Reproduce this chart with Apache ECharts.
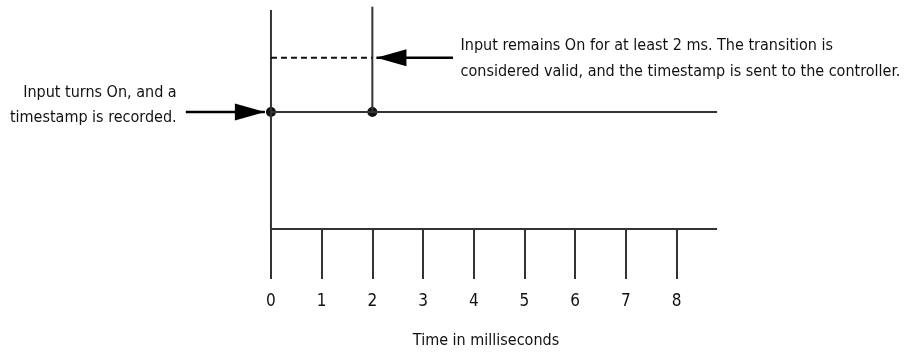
<!DOCTYPE html>
<html><head><meta charset="utf-8">
<script src="https://cdn.jsdelivr.net/npm/echarts@6.0.0/dist/echarts.min.js"></script>
<style>html,body{margin:0;padding:0;background:#fff}#c{width:912px;height:358px}</style>
</head><body><div id="c"></div>
<script>
const tickValues = [0, 1, 2, 3, 4, 5, 6, 7, 8];
const tickLabels = ['0', '1', '2', '3', '4', '5', '6', '7', '8'];
const timeEnd = 8.8;
const edgeTime = 0;
const validTime = 2;
const onLevel = 1;
const thresholdLevel = 1.464;
const edgeLineTop = 1.872;
const validLineTop = 1.90;
const arrowIn = { from: -1.68, to: -0.12, level: 1 };
const arrowOut = { from: 3.59, to: 2.08, level: 1.464 };
const noteIn = { text: 'Input turns On, and a\ntimestamp is recorded.', t: -1.85, level: 1.057 };
const noteOut = { text: 'Input remains On for at least 2 ms. The transition is\nconsidered valid, and the timestamp is sent to the controller.', t: 3.73, level: 1.457 };
const axisTitle = 'Time in milliseconds';
const xRange = [-5.345, 12.645];
const yRange = [0, 1.957];

const FONT = '"DejaVu Sans Condensed", "DejaVu Sans", sans-serif';
const INK = '#111111';
const LINE = '#333333';

const chart = echarts.init(document.getElementById('c'), null, { renderer: 'canvas' });

function seg(name, pts, style) {
  return { type: 'line', name, data: pts, symbol: 'none', silent: true, clip: false,
    lineStyle: Object.assign({ color: LINE, width: 2 }, style || {}) };
}

function note(name, n, side, lh) {
  return {
    type: 'line', name, data: [n.value], symbol: 'circle', symbolSize: 1, showSymbol: true, silent: true,
    itemStyle: { color: '#ffffff', opacity: 1 }, lineStyle: { opacity: 0 },
    label: { show: true, formatter: n.text, position: side, distance: 0,
      align: side === 'left' ? 'right' : 'left', verticalAlign: 'middle',
      fontFamily: FONT, fontSize: 16, lineHeight: lh, color: INK, opacity: 1 }
  };
}

noteIn.value = [noteIn.t, noteIn.level];
noteOut.value = [noteOut.t, noteOut.level];

chart.setOption({
  animation: false,
  grid: { left: 0, right: 0, top: 0, bottom: 129, containLabel: false },
  xAxis: {
    type: 'value', min: xRange[0], max: xRange[1],
    axisLine: { show: false }, splitLine: { show: false },
    axisTick: { show: true, length: 50, inside: false, customValues: tickValues, lineStyle: { color: LINE, width: 2 } },
    axisLabel: { show: true, customValues: tickValues, margin: 64, fontFamily: FONT, fontSize: 17, color: INK,
      formatter: v => tickLabels[tickValues.indexOf(v)] ?? '' },
    name: axisTitle, nameLocation: 'middle', nameGap: 104,
    nameTextStyle: { fontFamily: FONT, fontSize: 16, color: INK, padding: [0, 0, 0, 60] }
  },
  yAxis: { type: 'value', min: yRange[0], max: yRange[1], show: false },
  series: [
    seg('baseline', [[edgeTime, 0], [timeEnd, 0]]),
    seg('signal', [[edgeTime, onLevel], [timeEnd, onLevel]]),
    seg('edge', [[edgeTime, 0], [edgeTime, edgeLineTop]]),
    seg('valid', [[validTime, onLevel], [validTime, validLineTop]]),
    seg('threshold', [[edgeTime, thresholdLevel], [validTime, thresholdLevel]], { type: [6, 4], color: '#111' }),
    seg('arrowInShaft', [[arrowIn.from, arrowIn.level], [arrowIn.to, arrowIn.level]], { color: '#000', width: 2.5 }),
    seg('arrowOutShaft', [[arrowOut.from, arrowOut.level], [arrowOut.to, arrowOut.level]], { color: '#000', width: 2.5 }),
    { type: 'scatter', name: 'dots', data: [[edgeTime, onLevel], [validTime, onLevel]], symbol: 'circle', symbolSize: 10,
      itemStyle: { color: '#111', opacity: 1 }, silent: true },
    { type: 'scatter', name: 'headIn', data: [[arrowIn.to, arrowIn.level]], symbol: 'triangle', symbolSize: [17, 30],
      symbolRotate: -90, symbolOffset: [-15, 0], itemStyle: { color: '#000', opacity: 1 }, silent: true },
    { type: 'scatter', name: 'headOut', data: [[arrowOut.to, arrowOut.level]], symbol: 'triangle', symbolSize: [17, 30],
      symbolRotate: 90, symbolOffset: [15, 0], itemStyle: { color: '#000', opacity: 1 }, silent: true },
    note('noteIn', noteIn, 'left', 25),
    note('noteOut', noteOut, 'right', 26)
  ]
});
</script></body></html>
